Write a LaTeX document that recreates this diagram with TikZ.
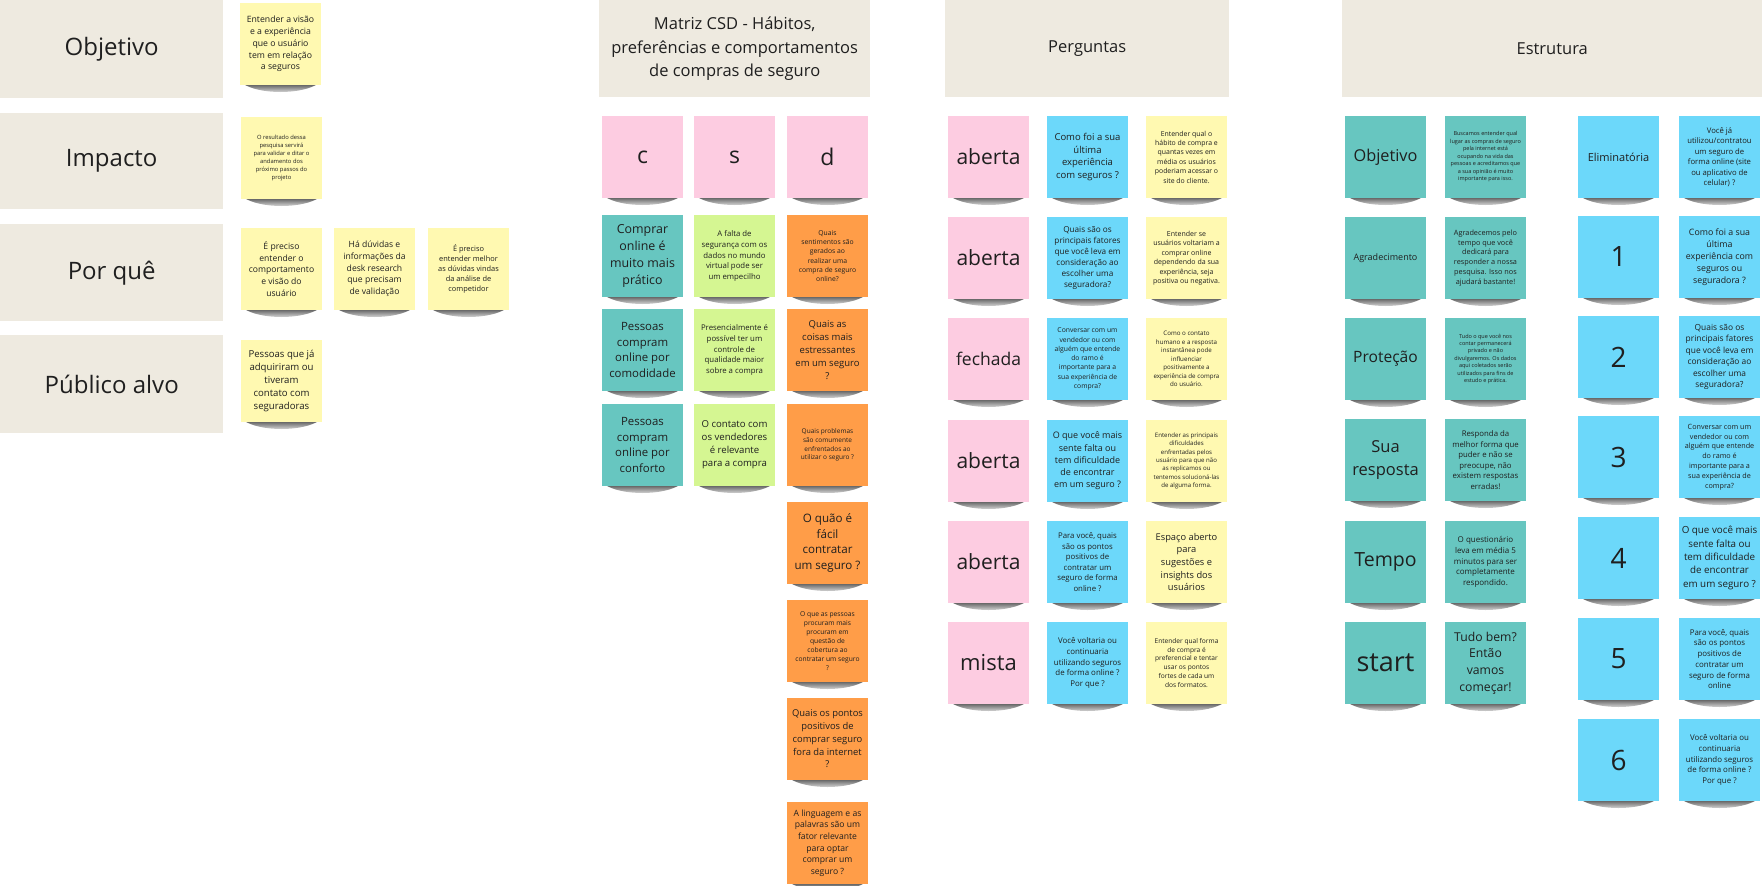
\documentclass[tikz,border=0pt]{standalone}
\usepackage{fontspec}
\setmainfont{Open Sans}
\definecolor{beige}{HTML}{EEEAE0}
\definecolor{ink}{HTML}{1F1F1F}
\definecolor{yel}{HTML}{FFF9B1}
\definecolor{pnk}{HTML}{FDCCE1}
\definecolor{teal}{HTML}{67C6C0}
\definecolor{lgreen}{HTML}{D5F692}
\definecolor{orng}{HTML}{FF9D48}
\definecolor{blu}{HTML}{6CD8FA}
\newcommand\fs[1]{\fontsize{#1}{\fpeval{#1*1.36}}\selectfont}
\tikzset{
  hdr/.style={fill=beige, draw=none, inner sep=0pt, align=center, text=ink, anchor=north west},
  sticky/.style={inner sep=0pt, minimum width=81pt, minimum height=82pt, align=center, text=ink, draw=none},
  shd/.style={top color=black!70, bottom color=white, draw=none}
}
\newcommand\stk[6]{%
  \shade[shd] (#2+2, #3+80) .. controls (#2+18, #3+92) and (#2+63, #3+92) .. (#2+79, #3+80) -- cycle;
  \node[sticky, fill=#4, font=\fs{#5}] (#1) at (#2+40.5, #3+41) {#6};
}
\begin{document}
\begin{tikzpicture}[x=1pt, y=-1pt]
\useasboundingbox (0,0) rectangle (1762,886);
% ---------- headers ----------
\node[hdr, minimum width=223, minimum height=98, font=\fs{24}] (hObj) at (0,0) {Objetivo};
\node[hdr, minimum width=223, minimum height=96, font=\fs{24}] (hImp) at (0,113) {Impacto};
\node[hdr, minimum width=223, minimum height=97, font=\fs{24}] (hPor) at (0,224) {Por quê};
\node[hdr, minimum width=223, minimum height=98, font=\fs{24}] (hPub) at (0,335) {Público alvo};
\node[hdr, minimum width=271, minimum height=97, font=\fontsize{16.5}{23.3}\selectfont] (hCSD) at (599,0) {Matriz CSD - Hábitos,\\preferências e comportamentos\\de compras de seguro};
\node[hdr, minimum width=284, minimum height=97, font=\fs{16.5}] (hPerg) at (945,0) {Perguntas};
\node[hdr, minimum width=420, minimum height=97, font=\fs{16.5}] (hEstr) at (1342,0) {Estrutura};
% ---------- left column ----------
\stk{lA}{240}{3}{yel}{8.7}{Entender a visão\\e a experiência\\que o usuário\\tem em relação\\a seguros}
\stk{lB}{241}{117}{yel}{5.8}{O resultado dessa\\pesquisa servirá\\para validar e ditar o\\andamento dos\\próximo passos do\\projeto}
\stk{lC}{241}{228}{yel}{8.6}{É preciso\\entender o\\comportamento\\e visão do\\usuário}
\stk{lD}{334}{228}{yel}{8.6}{Há dúvidas e\\informações da\\desk research\\que precisam\\de validação}
\stk{lE}{428}{228}{yel}{7.4}{É preciso\\entender melhor\\as dúvidas vindas\\da análise de\\competidor}
\stk{lF}{241}{340}{yel}{9.6}{Pessoas que já\\adquiriram ou\\tiveram\\contato com\\seguradoras}
% ---------- CSD ----------
\stk{cH}{602}{116}{pnk}{23}{c}
\stk{sH}{694}{116}{pnk}{23}{s}
\stk{dH}{787}{116}{pnk}{23}{d}
\stk{c1}{602}{215}{teal}{12.4}{Comprar\\online é\\muito mais\\prático}
\stk{c2}{602}{309}{teal}{11.4}{Pessoas\\compram\\online por\\comodidade}
\stk{c3}{602}{404}{teal}{11.4}{Pessoas\\compram\\online por\\conforto}
\stk{s1}{694}{215}{lgreen}{7.8}{A falta de\\segurança com os\\dados no mundo\\virtual pode ser\\um empecilho}
\stk{s2}{694}{309}{lgreen}{7.8}{Presencialmente é\\possível ter um\\controle de\\qualidade maior\\sobre a compra}
\stk{s3}{694}{404}{lgreen}{9.6}{O contato com\\os vendedores\\é relevante\\para a compra}
\stk{d1}{787}{215}{orng}{6.8}{Quais\\sentimentos são\\gerados ao\\realizar uma\\compra de seguro\\online?}
\stk{d2}{787}{309}{orng}{9.5}{Quais as\\coisas mais\\estressantes\\em um seguro\\?}
\stk{d3}{787}{404}{orng}{6.5}{Quais problemas\\são comumente\\enfrentados ao\\utilizar o seguro ?}
\stk{d4}{787}{502}{orng}{11.6}{O quão é\\fácil\\contratar\\um seguro ?}
\stk{d5}{787}{600}{orng}{6.7}{O que as pessoas\\procuram mais\\procuram em\\questão de\\cobertura ao\\contratar um seguro\\?}
\stk{d6}{787}{698}{orng}{9.4}{Quais os pontos\\positivos de\\comprar seguro\\fora da internet\\?}
\stk{d7}{787}{802}{orng}{8.6}{A linguagem e as\\palavras são um\\fator relevante\\para optar\\comprar um\\seguro ?}
% ---------- Perguntas ----------
\stk{pT1}{948}{116}{pnk}{21}{aberta}
\stk{pT2}{948}{217}{pnk}{21}{aberta}
\stk{pT3}{948}{318}{pnk}{17.5}{fechada}
\stk{pT4}{948}{420}{pnk}{21}{aberta}
\stk{pT5}{948}{521}{pnk}{21}{aberta}
\stk{pT6}{948}{622}{pnk}{22}{mista}
\stk{pQ1}{1047}{116}{blu}{9.5}{Como foi a sua\\última\\experiência\\com seguros ?}
\stk{pQ2}{1047}{217}{blu}{8.2}{Quais são os\\principais fatores\\que você leva em\\consideração ao\\escolher uma\\seguradora?}
\stk{pQ3}{1047}{318}{blu}{6.8}{Conversar com um\\vendedor ou com\\alguém que entende\\do ramo é\\importante para a\\sua experiência de\\compra?}
\stk{pQ4}{1047}{420}{blu}{9.0}{O que você mais\\sente falta ou\\tem dificuldade\\de encontrar\\em um seguro ?}
\stk{pQ5}{1047}{521}{blu}{7.8}{Para você, quais\\são os pontos\\positivos de\\contratar um\\seguro de forma\\online ?}
\stk{pQ6}{1047}{622}{blu}{7.9}{Você voltaria ou\\continuaria\\utilizando seguros\\de forma online ?\\Por que ?}
\stk{pG1}{1146}{116}{yel}{6.9}{Entender qual o\\hábito de compra e\\quantas vezes em\\média os usuários\\poderiam acessar o\\site do cliente.}
\stk{pG2}{1146}{217}{yel}{7.0}{Entender se\\usuários voltariam a\\comprar online\\dependendo da sua\\experiência, seja\\positiva ou negativa.}
\stk{pG3}{1146}{318}{yel}{6.2}{Como o contato\\humano e a resposta\\instantânea pode\\influenciar\\positivamente a\\experiência de compra\\do usuário.}
\stk{pG4}{1146}{420}{yel}{6.1}{Entender as principais\\dificuldades\\enfrentadas pelos\\usuário para que não\\as replicamos ou\\tentemos solucioná-las\\de alguma forma.}
\stk{pG5}{1146}{521}{yel}{9.3}{Espaço aberto\\para\\sugestões e\\insights dos\\usuários}
\stk{pG6}{1146}{622}{yel}{6.6}{Entender qual forma\\de compra é\\preferencial e tentar\\usar os pontos\\fortes de cada um\\dos formatos.}
% ---------- Estrutura ----------
\stk{eK1}{1345}{116}{teal}{16.3}{Objetivo}
\stk{eK2}{1345}{217}{teal}{9}{Agradecimento}
\stk{eK3}{1345}{318}{teal}{15.6}{Proteção}
\stk{eK4}{1345}{419}{teal}{16.5}{Sua\\resposta}
\stk{eK5}{1345}{521}{teal}{19.5}{Tempo}
\stk{eK6}{1345}{622}{teal}{27}{start}
\stk{eV1}{1445}{116}{teal}{5.5}{Buscamos entender qual\\lugar as compras de seguro\\pela internet está\\ocupando na vida das\\pessoas e acreditamos que\\a sua opinião é muito\\importante para isso.}
\stk{eV2}{1445}{217}{teal}{7.3}{Agradecemos pelo\\tempo que você\\dedicará para\\responder a nossa\\pesquisa. Isso nos\\ajudará bastante!}
\stk{eV3}{1445}{318}{teal}{5.5}{Tudo o que você nos\\contar permanecerá\\privado e não\\divulgaremos. Os dados\\aqui coletados serão\\utilizados para fins de\\estudo e prática.}
\stk{eV4}{1445}{419}{teal}{7.8}{Responda da\\melhor forma que\\puder e não se\\preocupe, não\\existem respostas\\erradas!}
\stk{eV5}{1445}{521}{teal}{8.0}{O questionário\\leva em média 5\\minutos para ser\\completamente\\respondido.}
\stk{eV6}{1445}{622}{teal}{12.2}{Tudo bem?\\Então\\vamos\\começar!}
\stk{bK0}{1578}{116}{blu}{11}{Eliminatória}
\stk{bK1}{1578}{216}{blu}{28}{1}
\stk{bK2}{1578}{316}{blu}{28}{2}
\stk{bK3}{1578}{416}{blu}{28}{3}
\stk{bK4}{1578}{517}{blu}{28}{4}
\stk{bK5}{1578}{618}{blu}{28}{5}
\stk{bK6}{1578}{719}{blu}{28}{6}
\stk{bV0}{1679}{116}{blu}{7.7}{Você já\\utilizou/contratou\\um seguro de\\forma online (site\\ou aplicativo de\\celular) ?}
\stk{bV1}{1679}{216}{blu}{8.8}{Como foi a sua\\última\\experiência com\\seguros ou\\seguradora ?}
\stk{bV2}{1679}{316}{blu}{8.4}{Quais são os\\principais fatores\\que você leva em\\consideração ao\\escolher uma\\seguradora?}
\stk{bV3}{1679}{416}{blu}{7.2}{Conversar com um\\vendedor ou com\\alguém que entende\\do ramo é\\importante para a\\sua experiência de\\compra?}
\stk{bV4}{1679}{517}{blu}{9.8}{O que você mais\\sente falta ou\\tem dificuldade\\de encontrar\\em um seguro ?}
\stk{bV5}{1679}{618}{blu}{7.9}{Para você, quais\\são os pontos\\positivos de\\contratar um\\seguro de forma\\online}
\stk{bV6}{1679}{719}{blu}{7.9}{Você voltaria ou\\continuaria\\utilizando seguros\\de forma online ?\\Por que ?}
\end{tikzpicture}
\end{document}
